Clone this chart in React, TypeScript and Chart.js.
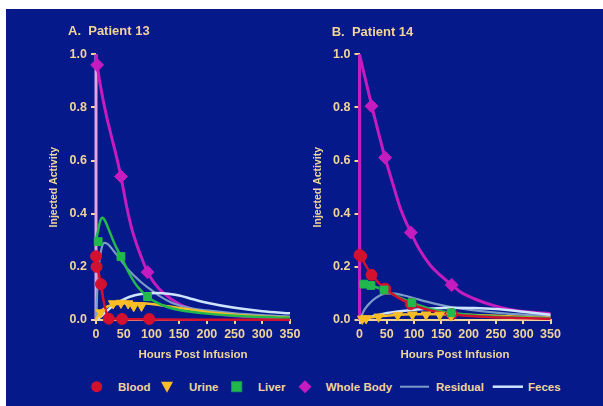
import React, { useEffect, useRef } from "react";
import { Chart, registerables } from "chart.js";

Chart.register(...registerables);

// ---------- data (hours post infusion, fraction of injected activity) ----------
const X_TICKS = [0, 50, 100, 150, 200, 250, 300, 350];
const Y_TICKS = [0, 0.2, 0.4, 0.6, 0.8, 1.0];
const LEGEND_LABELS = ["Blood", "Urine", "Liver", "Whole Body", "Residual", "Feces"];
const PANEL_TITLES = ["A.  Patient 13", "B.  Patient 14"];

// Patient 13 measured
const bloodPtsA = [[0, 0.24], [1, 0.2], [9, 0.135], [23, 0.005], [47, 0.004], [96, 0.004]];
const urinePtsA = [[8, 0.028], [31, 0.062], [45, 0.064], [58, 0.062], [68, 0.052], [82, 0.053]];
const liverPtsA = [[4, 0.295], [45, 0.239], [93, 0.088]];
const wbPtsA = [[2, 0.96], [45, 0.54], [93, 0.18]];
// Patient 13 model curves
const bloodFitA = [[0, 0.25], [3, 0.2], [6, 0.165], [9, 0.13], [13, 0.08], [17, 0.04], [22, 0.012], [30, 0.005], [60, 0.003], [100, 0.002], [200, 0.001], [350, 0.001]];
const urineFitA = [[0, 0], [5, 0.02], [10, 0.035], [20, 0.05], [30, 0.058], [45, 0.062], [60, 0.064], [80, 0.063], [100, 0.06], [125, 0.053], [150, 0.045], [200, 0.03], [250, 0.02], [300, 0.013], [350, 0.009]];
const liverFitA = [[0, 0.3], [4, 0.34], [8, 0.375], [12, 0.385], [17, 0.37], [25, 0.33], [35, 0.28], [45, 0.24], [60, 0.175], [75, 0.125], [93, 0.088], [110, 0.065], [130, 0.048], [150, 0.038], [200, 0.024], [250, 0.016], [300, 0.011], [350, 0.008]];
const wbFitA = [[0, 1.0], [2, 0.96], [45, 0.54], [55, 0.43], [65, 0.34], [75, 0.275], [85, 0.22], [93, 0.18], [105, 0.14], [120, 0.105], [150, 0.06], [190, 0.032], [250, 0.016], [300, 0.01], [350, 0.006]];
const wbRiseA = [[0, 0], [0, 1.0]];
const residualA = [[0, 0], [2, 0.1], [5, 0.2], [9, 0.26], [15, 0.29], [22, 0.285], [30, 0.265], [45, 0.225], [60, 0.185], [80, 0.145], [95, 0.12], [115, 0.09], [140, 0.062], [170, 0.045], [200, 0.036], [250, 0.025], [300, 0.018], [350, 0.013]];
const fecesA = [[0, 0], [10, 0.015], [20, 0.035], [35, 0.06], [50, 0.078], [70, 0.093], [90, 0.1], [110, 0.102], [130, 0.099], [150, 0.092], [175, 0.078], [200, 0.065], [250, 0.046], [300, 0.033], [350, 0.025]];

// Patient 14 measured
const bloodPtsB = [[0, 0.245], [3, 0.24], [22, 0.17], [47, 0.118], [94, 0.06], [169, 0.022]];
const urinePtsB = [[5, 0.004], [12, 0.006], [35, 0.012], [70, 0.018], [97, 0.02], [122, 0.02], [147, 0.019], [168, 0.016]];
const liverPtsB = [[8, 0.135], [21, 0.13], [45, 0.113], [96, 0.065], [168, 0.027]];
const wbPtsB = [[22, 0.805], [47, 0.611], [94, 0.329], [169, 0.132]];
// Patient 14 model curves
const bloodFitB = [[0, 0.25], [10, 0.21], [22, 0.17], [35, 0.14], [47, 0.118], [70, 0.085], [94, 0.06], [130, 0.036], [169, 0.022], [220, 0.013], [280, 0.008], [350, 0.005]];
const urineFitB = [[0, 0], [10, 0.005], [30, 0.012], [60, 0.018], [100, 0.022], [150, 0.022], [200, 0.02], [250, 0.016], [300, 0.011], [350, 0.008]];
const liverFitB = [[0, 0.14], [8, 0.137], [21, 0.13], [45, 0.113], [70, 0.088], [96, 0.065], [130, 0.042], [168, 0.027], [220, 0.016], [280, 0.01], [350, 0.006]];
const wbFitB = [[0, 1.0], [22, 0.81], [47, 0.61], [60, 0.52], [75, 0.42], [94, 0.33], [110, 0.265], [130, 0.205], [150, 0.165], [169, 0.132], [185, 0.105], [210, 0.08], [245, 0.055], [275, 0.04], [306, 0.031], [350, 0.024]];
const wbRiseB = [[0, 0], [0, 1.0]];
const residualB = [[0, 0], [5, 0.022], [10, 0.042], [20, 0.066], [30, 0.083], [40, 0.095], [52, 0.1], [65, 0.099], [80, 0.093], [100, 0.082], [125, 0.068], [150, 0.056], [170, 0.048], [200, 0.039], [250, 0.028], [300, 0.02], [350, 0.015]];
const fecesB = [[0, 0], [10, 0.006], [25, 0.014], [47, 0.025], [70, 0.032], [96, 0.038], [130, 0.043], [165, 0.046], [210, 0.045], [250, 0.041], [300, 0.031], [350, 0.02]];

// ---------- styles ----------
const BG = "#05198a";
const TXT = "#f0d49a";
const C_BLOOD = "#d3112f";
const C_URINE = "#f9bd25";
const C_LIVER = "#21b94c";
const C_WB = "#c41cbf";
const C_RES = "#7b9bc9";
const C_FEC = "#cfe5ff";
const FONT = "'Liberation Sans', Arial, sans-serif";

const xy = (arr: number[][]) => arr.map(([x, y]) => ({ x, y }));

function lineDs(data: number[][], color: string, width = 2.5, mono = true) {
  return {
    data: xy(data),
    borderColor: color,
    borderWidth: width,
    pointRadius: 0,
    fill: false,
    cubicInterpolationMode: mono ? "monotone" : "default",
    tension: 0,
    clip: false,
    order: 2,
  };
}
function ptDs(data: number[][], color: string, style: string, radius: number, rotation = 0) {
  return {
    data: xy(data),
    showLine: false,
    pointStyle: style,
    pointRadius: radius,
    pointRotation: rotation,
    pointBackgroundColor: color,
    pointBorderColor: color,
    pointBorderWidth: 1,
    clip: false,
    order: 1,
  };
}

type PanelCfg = {
  yWidth: number;
  yTitlePad: number;
  padding: { left: number; top: number; right: number; bottom: number };
  datasets: any[];
};

function makeConfig(p: PanelCfg): any {
  return {
    type: "line",
    data: { datasets: p.datasets },
    options: {
      animation: false,
      responsive: false,
      devicePixelRatio: 1,
      events: [],
      layout: { padding: p.padding },
      plugins: { legend: { display: false }, tooltip: { enabled: false }, title: { display: false } },
      scales: {
        x: {
          type: "linear",
          min: 0,
          max: 350,
          afterBuildTicks: (s: any) => {
            s.ticks = X_TICKS.map((v) => ({ value: v }));
          },
          afterFit: (s: any) => {
            s.height = 45;
          },
          ticks: {
            color: TXT,
            font: { family: FONT, size: 12.5, weight: "bold" },
            padding: 3,
            maxRotation: 0,
            autoSkip: false,
          },
          grid: { drawOnChartArea: false, drawTicks: true, tickLength: 4, color: TXT, lineWidth: 2 },
          border: { display: true, color: TXT, width: 2 },
          title: {
            display: true,
            text: "Hours Post Infusion",
            color: TXT,
            font: { family: FONT, size: 11.5, weight: "bold" },
            padding: { top: 0, bottom: 3 },
          },
        },
        y: {
          type: "linear",
          min: 0,
          max: 1,
          afterBuildTicks: (s: any) => {
            s.ticks = Y_TICKS.map((v) => ({ value: v }));
          },
          afterFit: (s: any) => {
            s.width = p.yWidth;
          },
          ticks: {
            color: TXT,
            font: { family: FONT, size: 12.5, weight: "bold" },
            padding: 4,
            autoSkip: false,
            callback: (v: number) => Number(v).toFixed(1),
          },
          grid: { drawOnChartArea: false, drawTicks: true, tickLength: 5, color: TXT, lineWidth: 2 },
          border: { display: false },
          title: {
            display: true,
            text: "Injected Activity",
            color: TXT,
            font: { family: FONT, size: 10.5, weight: "bold" },
            padding: { top: p.yTitlePad, bottom: 0 },
          },
        },
      },
    },
  };
}

function panelDatasets(
  bloodPts: number[][], urinePts: number[][], liverPts: number[][], wbPts: number[][],
  bloodFit: number[][], urineFit: number[][], liverFit: number[][], wbFit: number[][],
  wbRise: number[][], residual: number[][], feces: number[][], riseColor: string
) {
  return [
    ptDs(wbPts, C_WB, "rectRot", 6.5),
    ptDs(liverPts, C_LIVER, "rect", 5.5),
    ptDs(urinePts, C_URINE, "triangle", 5.5, 180),
    ptDs(bloodPts, C_BLOOD, "circle", 5.5),
    lineDs(bloodFit, C_BLOOD),
    lineDs(liverFit, C_LIVER),
    lineDs(urineFit, C_URINE),
    lineDs(feces, C_FEC),
    lineDs(residual, C_RES, 2.2),
    lineDs(wbFit, C_WB, 3),
    lineDs(wbRise, riseColor, 3, false),
  ];
}

const PANEL_A: PanelCfg = {
  yWidth: 90,
  yTitlePad: 41.7,
  padding: { left: 0, top: 45.3, right: 16, bottom: 4 },
  datasets: panelDatasets(bloodPtsA, urinePtsA, liverPtsA, wbPtsA, bloodFitA, urineFitA, liverFitA, wbFitA, wbRiseA, residualA, fecesA, "#e2a2df"),
};
const PANEL_B: PanelCfg = {
  yWidth: 53.5,
  yTitlePad: 5.7,
  padding: { left: 0, top: 45.3, right: 52.5, bottom: 4 },
  datasets: panelDatasets(bloodPtsB, urinePtsB, liverPtsB, wbPtsB, bloodFitB, urineFitB, liverFitB, wbFitB, wbRiseB, residualB, fecesB, C_WB),
};

function ChartCanvas({ cfg, left, width }: { cfg: PanelCfg; left: number; width: number }) {
  const ref = useRef<HTMLCanvasElement | null>(null);
  useEffect(() => {
    if (!ref.current) return;
    const chart = new Chart(ref.current, makeConfig(cfg));
    return () => chart.destroy();
  }, [cfg]);
  return (
    <canvas
      ref={ref}
      width={width}
      height={360}
      style={{ position: "absolute", left, top: 9, width, height: 360 }}
    />
  );
}

const textStyle: React.CSSProperties = {
  position: "absolute",
  color: TXT,
  fontFamily: FONT,
  whiteSpace: "pre",
};

export default function App() {
  const ly = 11.7;
  const legendText = [118, 189, 258, 325.7, 436, 528];
  return (
    <div style={{ position: "fixed", left: 0, top: 0, width: 603, height: 406, background: "#ffffff", overflow: "hidden" }}>
      <div style={{ position: "absolute", left: 6, top: 9, width: 597, height: 397, background: BG }} />
      <ChartCanvas cfg={PANEL_A} left={6} width={300} />
      <ChartCanvas cfg={PANEL_B} left={306} width={297} />
      <div style={{ ...textStyle, left: 68, top: 24, fontSize: 13, lineHeight: "13px", fontWeight: "bold" }}>{PANEL_TITLES[0]}</div>
      <div style={{ ...textStyle, left: 331.7, top: 24.5, fontSize: 13, lineHeight: "13px", fontWeight: "bold" }}>{PANEL_TITLES[1]}</div>
      <svg width={603} height={24} style={{ position: "absolute", left: 0, top: 375 }}>
        <circle cx={96.7} cy={ly} r={5.5} fill={C_BLOOD} />
        <polygon points={`${161},${ly - 5} ${173},${ly - 5} ${167},${ly + 6}`} fill={C_URINE} />
        <rect x={231.7} y={ly - 5} width={10} height={10} fill={C_LIVER} stroke="#1a9a5a" strokeWidth={1} />
        <polygon points={`${305},${ly - 6.5} ${311.5},${ly} ${305},${ly + 6.5} ${298.5},${ly}`} fill={C_WB} />
        <line x1={400} y1={ly} x2={429} y2={ly} stroke={C_RES} strokeWidth={2} />
        <line x1={492.7} y1={ly} x2={523} y2={ly} stroke={C_FEC} strokeWidth={2.5} />
      </svg>
      {LEGEND_LABELS.map((t, i) => (
        <div key={t} style={{ ...textStyle, left: legendText[i], top: 381.3, fontSize: 11.5, lineHeight: "12px", fontWeight: "bold" }}>{t}</div>
      ))}
    </div>
  );
}
